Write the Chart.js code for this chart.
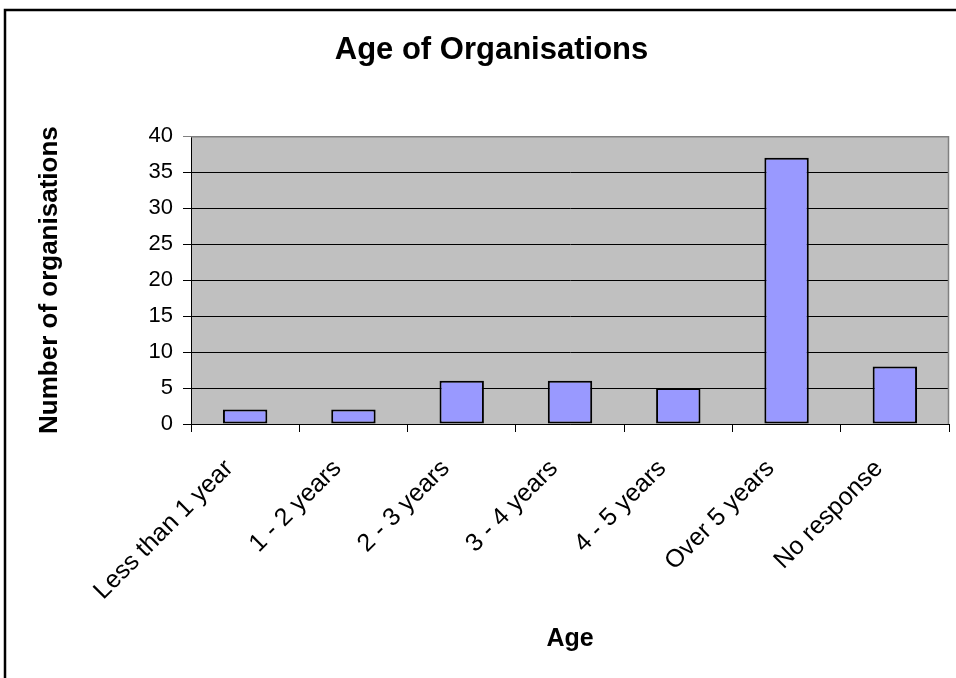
<!DOCTYPE html>
<html>
<head>
<meta charset="utf-8">
<title>Age of Organisations</title>
<script src="https://cdn.jsdelivr.net/npm/chart.js@4/dist/chart.umd.min.js"></script>
<style>
  body { margin: 0; background: #fff; }
  #wrap { width: 956px; height: 678px; }
</style>
</head>
<body>
<div id="wrap"><canvas id="myChart" width="956" height="678"></canvas></div>
<script>
// datos del grafico
const categorias = ["Less than 1 year", "1 - 2 years", "2 - 3 years", "3 - 4 years", "4 - 5 years", "Over 5 years", "No response"];
const organizaciones = [2, 2, 6, 6, 5, 37, 8];
const ticks_y = [0, 5, 10, 15, 20, 25, 30, 35, 40];

const fuente = "'Liberation Sans', Arial, sans-serif";
const grafica = document.getElementById("myChart").getContext("2d");

// fondo gris del area, borde gris arriba/derecha y marco exterior
const fondoPlugin = {
    id: "fondo",
    beforeDraw(chart) {
        const { ctx, chartArea } = chart;
        ctx.save();
        ctx.fillStyle = "#C0C0C0";
        ctx.fillRect(chartArea.left, chartArea.top, chartArea.right - chartArea.left, chartArea.bottom - chartArea.top);
        ctx.restore();
    },
    beforeDatasetsDraw(chart) {
        const { ctx, chartArea } = chart;
        ctx.save();
        ctx.strokeStyle = "#808080";
        ctx.lineWidth = 1.5;
        ctx.beginPath();
        ctx.moveTo(chartArea.left, chartArea.top + 0.5);
        ctx.lineTo(chartArea.right - 0.5, chartArea.top + 0.5);
        ctx.lineTo(chartArea.right - 0.5, chartArea.bottom);
        ctx.stroke();
        ctx.restore();
    },
    afterDraw(chart) {
        const ctx = chart.ctx;
        ctx.save();
        ctx.strokeStyle = "#000";
        ctx.lineWidth = 2.5;
        ctx.beginPath();
        ctx.moveTo(5, 700);
        ctx.lineTo(5, 10);
        ctx.lineTo(960, 10);
        ctx.stroke();
        ctx.restore();
    }
};

const myChart = new Chart(grafica, {
    type: "bar",
    data: {
        labels: categorias,
        datasets: [{
            label: "Number of organisations",
            data: organizaciones,
            backgroundColor: "#9999FF",
            borderColor: "#000000",
            borderWidth: 2,
            borderSkipped: false,
            categoryPercentage: 1.0,
            barPercentage: 0.41
        }]
    },
    options: {
        responsive: false,
        animation: false,
        devicePixelRatio: 1,
        layout: { padding: { left: 34, right: 7, top: 0, bottom: 24 } },
        plugins: {
            legend: { display: false },
            tooltip: { enabled: false },
            title: {
                display: true,
                text: "Age of Organisations",
                color: "#000",
                font: { family: fuente, size: 31, weight: "bold" },
                padding: { top: 32, bottom: 67 }
            }
        },
        scales: {
            x: {
                afterFit: (scale) => { scale.height = 678 - 24 - 424; },
                grid: {
                    drawOnChartArea: false,
                    drawTicks: true,
                    tickLength: 8,
                    color: "#000",
                    offset: true
                },
                border: { display: true, color: "#000", width: 1 },
                ticks: {
                    color: "#000",
                    font: { family: fuente, size: 25 },
                    minRotation: 45,
                    maxRotation: 45,
                    labelOffset: -16,
                    padding: 22
                },
                title: {
                    display: true,
                    text: "Age",
                    color: "#000",
                    font: { family: fuente, size: 25, weight: "bold" },
                    padding: 0
                }
            },
            y: {
                min: 0,
                max: 40,
                afterFit: (scale) => { scale.width = 191 - 34; },
                afterBuildTicks: (scale) => { scale.ticks = ticks_y.map(v => ({ value: v })); },
                grid: {
                    color: (c) => c.tick && c.tick.value === 40 ? "#808080" : "#000",
                    lineWidth: 1,
                    tickLength: 8
                },
                border: { display: true, color: "#000", width: 1 },
                ticks: {
                    color: "#000",
                    font: { family: fuente, size: 22 },
                    padding: 10
                },
                title: {
                    display: true,
                    text: "Number of organisations",
                    color: "#000",
                    font: { family: fuente, size: 26, weight: "bold" },
                    padding: 0
                }
            }
        }
    },
    plugins: [fondoPlugin]
});
</script>
</body>
</html>
